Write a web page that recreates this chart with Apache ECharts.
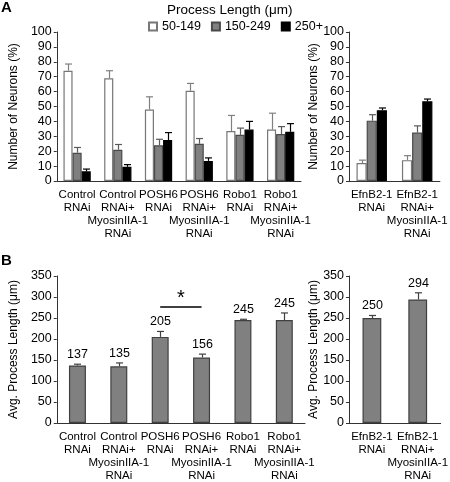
<!DOCTYPE html>
<html><head><meta charset="utf-8">
<script src="https://cdn.jsdelivr.net/npm/echarts@6/dist/echarts.min.js"></script>
<style>html,body{margin:0;padding:0;background:#fff}#c{width:450px;height:482px}</style>
</head><body><div id="c"></div>
<script>
// ---------- DATA ----------
const catsLeft = ['Control\nRNAi', 'Control\nRNAi+\nMyosinIIA-1\nRNAi', 'POSH6\nRNAi', 'POSH6\nRNAi+\nMyosinIIA-1\nRNAi', 'Robo1\nRNAi', 'Robo1\nRNAi+\nMyosinIIA-1\nRNAi'];
const catsRight = ['EfnB2-1\nRNAi', 'EfnB2-1\nRNAi+\nMyosinIIA-1\nRNAi'];
const lengthBins = ['50-149', '150-249', '250+'];

// Panel A (% of neurons), left
const aLeft50 = [74, 69, 48, 60.5, 33.5, 34.5];
const aLeft50Err = [78.5, 74, 56.5, 65.5, 44, 45.5];
const aLeft150 = [19, 21, 24, 25, 31, 31.5];
const aLeft150Err = [22.5, 24.5, 28, 28.5, 35.5, 36.5];
const aLeft250 = [6.5, 9.5, 27.5, 13.5, 34.5, 33];
const aLeft250Err = [8, 11, 32.5, 15.5, 40, 38.5];
// Panel A, right
const aRight50 = [12, 14];
const aRight50Err = [14, 17];
const aRight150 = [40.5, 32.5];
const aRight150Err = [44.5, 37];
const aRight250 = [47.5, 53.5];
const aRight250Err = [49, 55];
// Panel B (avg process length, um)
const bLeft = [137, 135, 205, 156, 245, 245];
const bLeftErr = [140, 143, 218, 164, 247, 262];
const bRight = [250, 294];
const bRightErr = [256, 310];
// significance bracket (category indices, value level)
const sigFrom = 2, sigTo = 3, sigLevel = 277;

const yTicksA = {min: 0, max: 100, interval: 10};
const yTicksB = {min: 0, max: 350, interval: 50};

// ---------- STYLE ----------
const FONT = 'Liberation Sans, Arial, Helvetica, sans-serif';
const fills = ['#ffffff', '#808080', '#000000'];
const borders = ['#777777', '#4a4a4a', '#000000'];
const errColors = ['#808080', '#5a5a5a', '#000000'];
const GAP_A = 0.33, GAP_B = 0.59;

const chart = echarts.init(document.getElementById('c'), null, {renderer: 'canvas'});

function errorSeries(xi, yi, vals, errs, k, count, gap, color, withLabel) {
  return {
    type: 'custom', xAxisIndex: xi, yAxisIndex: yi, z: 10, silent: true,
    data: vals.map((v, i) => [i, v, errs[i]]),
    encode: {x: 0, y: [1, 2]},
    renderItem(params, api) {
      const idx = api.value(0);
      const base = api.coord([idx, api.value(1)]);
      const top = api.coord([idx, api.value(2)]);
      const band = api.size([1, 0])[0];
      const used = band * (1 - gap);
      const bw = used / count;
      const cx = Math.round(base[0] - used / 2 + bw * (k + 0.5)) + 0.5;
      const cap = 3.5;
      const st = {stroke: color, lineWidth: 1.2};
      const children = [
        {type: 'line', shape: {x1: cx, y1: base[1], x2: cx, y2: top[1]}, style: st},
        {type: 'line', shape: {x1: cx - cap, y1: top[1], x2: cx + cap, y2: top[1]}, style: st}
      ];
      if (withLabel) {
        children.push({type: 'text', x: cx, y: top[1] - 3,
          style: {text: String(api.value(1)), align: 'center', verticalAlign: 'bottom',
                  font: '12.5px ' + FONT, fill: '#000'}});
      }
      return {type: 'group', children};
    }
  };
}

function barSeries(name, xi, yi, data, k, gap, isB) {
  return {
    name, type: 'bar', xAxisIndex: xi, yAxisIndex: yi, data,
    barGap: '0%', barCategoryGap: (gap * 100) + '%',
    itemStyle: {color: isB ? '#808080' : fills[k], borderColor: isB ? '#404040' : borders[k], borderWidth: 1.2},
    emphasis: {disabled: true}, animation: false
  };
}

function catAxis(gi, data) {
  return {
    type: 'category', gridIndex: gi, data,
    axisLine: {lineStyle: {color: '#333', width: 1}},
    axisTick: {length: 4, lineStyle: {color: '#333'}},
    axisLabel: {interval: 0, color: '#000', fontFamily: FONT, fontSize: 11.5, lineHeight: 13, margin: 7}
  };
}
function valAxis(gi, ticks, name, gap) {
  return {
    type: 'value', gridIndex: gi, min: ticks.min, max: ticks.max, interval: ticks.interval,
    name, nameLocation: 'middle', nameGap: gap,
    nameTextStyle: {color: '#000', fontFamily: FONT, fontSize: 12},
    axisLine: {show: true, lineStyle: {color: '#333', width: 1}},
    axisTick: {show: true, length: 3, lineStyle: {color: '#333'}},
    axisLabel: {color: '#000', fontFamily: FONT, fontSize: 12.5, margin: 5},
    splitLine: {show: false}
  };
}

const aLeftVals = [aLeft50, aLeft150, aLeft250];
const aLeftErrs = [aLeft50Err, aLeft150Err, aLeft250Err];
const aRightVals = [aRight50, aRight150, aRight250];
const aRightErrs = [aRight50Err, aRight150Err, aRight250Err];

const series = [];
lengthBins.forEach((n, k) => {
  series.push(barSeries(n, 0, 0, aLeftVals[k], k, GAP_A, false));
});
lengthBins.forEach((n, k) => {
  series.push(barSeries(n, 1, 1, aRightVals[k], k, GAP_A, false));
});
lengthBins.forEach((n, k) => {
  series.push(errorSeries(0, 0, aLeftVals[k], aLeftErrs[k], k, 3, GAP_A, errColors[k], false));
  series.push(errorSeries(1, 1, aRightVals[k], aRightErrs[k], k, 3, GAP_A, errColors[k], false));
});
const bBarLeft = barSeries('avgL', 2, 2, bLeft, 0, GAP_B, true);
bBarLeft.markLine = {
  silent: true, symbol: 'none', animation: false,
  lineStyle: {color: '#000', width: 1.6, type: 'solid'},
  label: {show: true, position: 'insideMiddleTop', formatter: '*', color: '#000', fontSize: 20, fontFamily: FONT, distance: -2},
  data: [[{coord: [sigFrom, sigLevel]}, {coord: [sigTo, sigLevel]}]]
};
series.push(bBarLeft);
series.push(barSeries('avgR', 3, 3, bRight, 0, GAP_B, true));
series.push(errorSeries(2, 2, bLeft, bLeftErr, 0, 1, GAP_B, '#404040', true));
series.push(errorSeries(3, 3, bRight, bRightErr, 0, 1, GAP_B, '#404040', true));

chart.setOption({
  animation: false,
  textStyle: {fontFamily: FONT},
  title: [
    {text: 'A', left: 1, top: 0, padding: 0, textStyle: {fontSize: 15, fontWeight: 'bold', color: '#000', fontFamily: FONT}},
    {text: 'B', left: 1, top: 253, padding: 0, textStyle: {fontSize: 15, fontWeight: 'bold', color: '#000', fontFamily: FONT}},
    {text: 'Process Length (μm)', left: 167, top: 3, padding: 0, textStyle: {fontSize: 13.5, fontWeight: 'normal', color: '#000', fontFamily: FONT}}
  ],
  legend: {
    data: lengthBins, left: 148, top: 20, padding: 0, itemWidth: 8, itemHeight: 8, itemGap: 10,
    icon: 'rect', textStyle: {fontSize: 12.5, color: '#000', fontFamily: FONT}, selectedMode: false
  },
  grid: [
    {left: 31, top: 32, width: 270, height: 149},
    {left: 349, top: 32, width: 93, height: 149},
    {left: 35, top: 276, width: 270, height: 149},
    {left: 349, top: 276, width: 96, height: 149}
  ],
  xAxis: [catAxis(0, catsLeft), catAxis(1, catsRight), catAxis(2, catsLeft), catAxis(3, catsRight)],
  yAxis: [
    valAxis(0, yTicksA, 'Number of Neurons (%)', 19),
    valAxis(1, yTicksA, 'Number of Neurons (%)', 19),
    valAxis(2, yTicksB, 'Avg. Process Length (μm)', 22),
    valAxis(3, yTicksB, 'Avg. Process Length (μm)', 22)
  ],
  series
});
</script>
</body></html>
